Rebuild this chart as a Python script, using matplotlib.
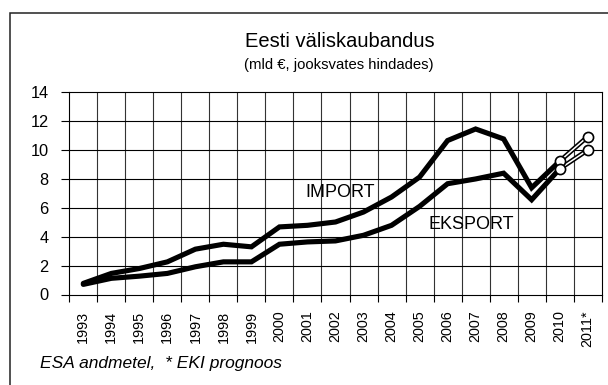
import numpy as np
import matplotlib
matplotlib.use("Agg")
import matplotlib.pyplot as plt
from matplotlib.patches import Rectangle

plt.rcParams['font.family'] = ['Liberation Sans', 'DejaVu Sans']

# aastad ja kaubandus (mld eurot)
years = ["1993", "1994", "1995", "1996", "1997", "1998", "1999", "2000", "2001", "2002",
         "2003", "2004", "2005", "2006", "2007", "2008", "2009", "2010", "2011*"]
imp = [0.77, 1.46, 1.80, 2.26, 3.14, 3.48, 3.30, 4.68, 4.79, 5.02,
       5.71, 6.75, 8.13, 10.66, 11.46, 10.77, 7.39, 9.23, 10.93]
eksp = [0.70, 1.12, 1.27, 1.46, 1.92, 2.26, 2.26, 3.48, 3.64, 3.71,
        4.10, 4.79, 6.10, 7.67, 8.00, 8.40, 6.56, 8.70, 10.00]

W, H = 608, 385
fig = plt.figure(figsize=(W / 100, H / 100), dpi=100)
fig.patch.set_facecolor('white')

# raam ümber joonise
fig.patches.append(Rectangle((10 / W, -0.2), 1.2, 0.2 + (H - 13) / H, transform=fig.transFigure,
                             fill=False, edgecolor='#222222', linewidth=1.1, zorder=0))

ax = fig.add_axes([69.3 / W, (H - 294.5) / H, (601.7 - 69.3) / W, (294.5 - 92.3) / H])
x = np.arange(len(years))

ax.set_xlim(-0.5, len(years) - 0.5)
ax.set_ylim(0, 14)
ax.set_yticks(np.arange(0, 15, 2))
ax.set_xticks(x)
ax.set_xticklabels(years, rotation=90, fontsize=10.4)
ax.set_xticks(np.arange(-0.5, len(years), 1), minor=True)
ax.tick_params(axis='x', which='major', length=0, pad=11.5)
ax.tick_params(axis='x', which='minor', length=5, width=0.8, direction='out')
ax.tick_params(axis='y', length=5.8, width=0.8, pad=9, labelsize=11.8)

# ruudustik
for b in np.arange(0.5, len(years) - 1, 1):
    ax.axvline(b, color='#333333', linewidth=0.8, zorder=1)
for g in range(2, 14, 2):
    ax.axhline(g, color='black', linewidth=0.8, zorder=1)
for s in ax.spines.values():
    s.set_linewidth(0.8)

# tegelikud andmed kuni 2010
n = len(years) - 1
for v in (imp, eksp):
    ax.plot(x[:n], v[:n], color='black', linewidth=3.7, solid_capstyle='round',
            solid_joinstyle='miter', zorder=3)
    # prognoos
    ax.plot(x[n - 1:], v[n - 1:], color='black', linewidth=3.4, solid_capstyle='butt', zorder=3)
    ax.plot(x[n - 1:], v[n - 1:], color='white', linewidth=1.1, solid_capstyle='butt', zorder=4)
    ax.plot(x[n - 1:], v[n - 1:], linestyle='none', marker='o', markersize=7.3,
            markerfacecolor='white', markeredgecolor='black', markeredgewidth=1.2, zorder=5)

ax.text(9.17, 7.03, "IMPORT", fontsize=13, ha='center', va='center')
ax.text(13.83, 4.82, "EKSPORT", fontsize=13, ha='center', va='center')

fig.text(339.5 / W, (H - 46.7) / H, "Eesti väliskaubandus", fontsize=14.5,
         ha='center', va='baseline')
fig.text(339 / W, (H - 69) / H, "(mld €, jooksvates hindades)", fontsize=10.7,
         ha='center', va='baseline')
fig.text(40 / W, (H - 368) / H, "ESA andmetel,  * EKI prognoos", fontsize=12.5,
         style='italic', ha='left', va='baseline')

fig.savefig("out.png", dpi=100)
